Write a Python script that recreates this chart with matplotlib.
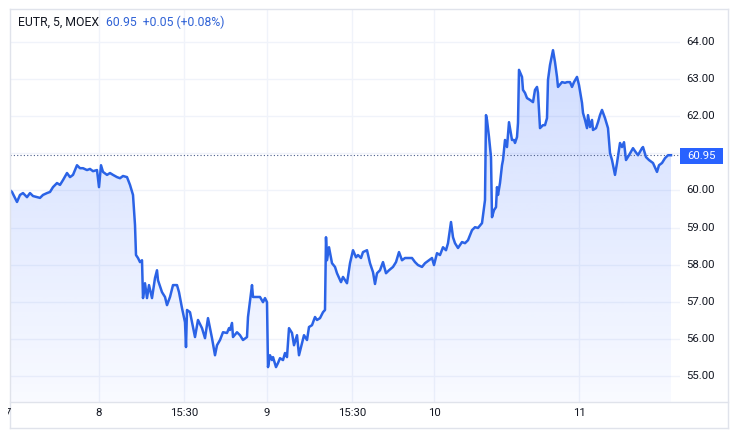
import numpy as np
import matplotlib
matplotlib.use("Agg")
import matplotlib.pyplot as plt
from matplotlib.patches import Rectangle
from matplotlib.transforms import Bbox

# ---------------- data ----------------
bars = [0, 2, 7, 10, 13, 17, 20, 23, 27, 30, 33, 37, 40, 43, 47, 50, 53, 57, 60, 63,
        67, 70, 73, 77, 80, 83, 87, 89, 91, 93, 97, 100, 103, 107, 110, 113, 117, 120, 123, 125,
        126, 128, 130, 132, 133, 135, 137, 139, 142, 145, 147, 148, 152, 155, 157, 160, 163, 167, 169, 172,
        175, 176, 177, 180, 182, 185, 188, 192, 195, 198, 200, 202, 205, 207, 210, 213, 217, 219, 220, 222,
        223, 227, 230, 233, 237, 238, 242, 243, 247, 250, 253, 255, 257, 258, 260, 262, 263, 266, 268, 270,
        273, 275, 277, 279, 282, 284, 287, 289, 292, 294, 297, 299, 302, 305, 307, 310, 313, 315, 316, 317,
        319, 322, 325, 327, 331, 333, 337, 340, 343, 346, 348, 351, 353, 357, 360, 363, 365, 367, 370, 373,
        376, 379, 383, 386, 389, 392, 395, 398, 402, 405, 408, 412, 415, 418, 422, 424, 427, 430, 433, 436,
        438, 441, 443, 445, 448, 452, 455, 458, 462, 465, 468, 472, 475, 476, 477, 479, 481, 482, 484, 486,
        487, 488, 490, 492, 493, 495, 497, 499, 502, 504, 505, 507, 508, 509, 512, 513, 515, 517, 520, 523,
        525, 527, 528, 530, 533, 535, 537, 538, 540, 543, 545, 547, 548, 552, 555, 557, 560, 562, 564, 567,
        569, 572, 573, 575, 577, 578, 580, 582, 583, 586, 588, 590, 592, 595, 598, 600, 602, 605, 607, 610,
        612, 614, 616, 619, 623, 625, 628, 632, 633, 636, 639, 643, 647, 649, 652, 655, 658, 661]
prices = [60.01, 59.96, 59.69, 59.88, 59.93, 59.82, 59.93, 59.85, 59.82, 59.80, 59.88, 59.93, 59.96, 60.09, 60.20, 60.15, 60.28, 60.47, 60.36, 60.42,
          60.68, 60.60, 60.60, 60.55, 60.58, 60.52, 60.55, 60.09, 60.68, 60.50, 60.42, 60.47, 60.42, 60.36, 60.33, 60.39, 60.36, 60.15, 59.88, 59.07,
          58.26, 58.18, 58.07, 58.12, 57.10, 57.50, 57.10, 57.45, 57.10, 57.64, 57.85, 57.58, 57.26, 57.13, 56.91, 57.13, 57.45, 57.45, 57.26, 56.83,
          56.45, 55.78, 56.78, 56.72, 56.45, 56.05, 56.51, 56.29, 56.02, 56.56, 56.29, 56.02, 55.56, 55.83, 55.97, 56.18, 56.16, 56.29, 56.24, 56.43,
          56.05, 56.18, 56.10, 55.97, 56.05, 56.59, 57.45, 57.13, 57.13, 57.13, 56.99, 57.10, 56.99, 55.24, 55.56, 55.43, 55.51, 55.24, 55.35, 55.48,
          55.43, 55.62, 55.51, 56.29, 56.16, 55.83, 56.10, 55.56, 55.89, 56.10, 55.97, 56.32, 56.37, 56.59, 56.51, 56.56, 56.72, 56.78, 58.74, 58.12,
          58.47, 58.04, 57.94, 57.77, 57.53, 57.67, 57.50, 58.04, 58.39, 58.20, 58.26, 58.18, 58.34, 58.39, 58.04, 57.80, 57.48, 57.77, 57.85, 58.07,
          57.77, 57.85, 57.94, 58.07, 58.34, 58.12, 58.18, 58.18, 58.18, 58.07, 57.99, 57.94, 58.04, 58.10, 58.18, 57.99, 58.31, 58.26, 58.47, 58.39,
          58.58, 59.15, 58.74, 58.58, 58.45, 58.61, 58.58, 58.66, 58.93, 59.01, 58.99, 59.12, 59.74, 62.03, 61.90, 61.44, 60.90, 59.28, 59.47, 59.55,
          60.09, 59.88, 60.20, 60.68, 60.82, 61.36, 61.17, 61.84, 61.36, 61.36, 61.28, 61.44, 61.82, 63.25, 63.06, 62.71, 62.63, 62.49, 62.44, 62.38,
          62.71, 62.79, 62.63, 61.68, 61.76, 61.76, 61.95, 62.98, 63.38, 63.78, 63.46, 63.06, 62.79, 62.92, 62.90, 62.92, 62.92, 62.79, 62.92, 63.06,
          62.84, 62.36, 62.09, 61.90, 61.68, 62.03, 61.71, 61.90, 61.63, 61.68, 61.84, 62.03, 62.17, 61.95, 61.68, 61.01, 60.82, 60.42, 60.74, 61.28,
          61.17, 61.30, 60.82, 60.95, 61.14, 61.06, 60.95, 61.14, 61.17, 60.90, 60.82, 60.74, 60.50, 60.68, 60.74, 60.87, 60.95, 60.95]

x_tick_bars = [89, 174, 257, 342, 424, 569]
x_tick_labels = ["8", "15:30", "9", "15:30", "10", "11"]
y_ticks = [55, 56, 57, 58, 59, 60, 61, 62, 63, 64]
y_tick_labels = ["55.00", "56.00", "57.00", "58.00", "59.00", "60.00", "", "62.00", "63.00", "64.00"]
last_price = 60.95
title_main = "EUTR, 5, MOEX"
title_quote = "60.95  +0.05 (+0.08%)"

# ---------------- style ----------------
FONT = "Roboto"
LINE_C = "#2b63e6"
TEXT_C = "#131722"
GRID_C = "#f0f3fa"
BORDER_C = "#e0e3eb"
FS = 8.2

W, H = 738, 433
fig = plt.figure(figsize=(W / 100, H / 100), dpi=100)
fig.patch.set_facecolor("white")

def fx(x):
    return x / W

def fy(y):
    return 1 - y / H

ax = fig.add_axes([fx(10), fy(402), (680 - 10) / W, (402 - 9) / H])
ymin, ymax = 54.30, 64.89
ax.set_xlim(0, 670)
ax.set_ylim(ymin, ymax)
for s in ax.spines.values():
    s.set_visible(False)
ax.tick_params(left=False, bottom=False, labelleft=False, labelbottom=False)

# grid
for v in y_ticks:
    ax.axhline(v, color=GRID_C, lw=1.0, zorder=0)
for b in x_tick_bars:
    ax.axvline(b, color=GRID_C, lw=1.0, zorder=0)

xs = np.array(bars, dtype=float)
ys = np.array(prices, dtype=float)

# gradient fill under the line
poly = ax.fill_between(xs, ys, ymin, color="none", lw=0)
top = ys.max()
n = 256
alpha = np.linspace(0.22, 0.03, n)[:, None]
rgba = np.zeros((n, 1, 4))
rgba[..., 0] = 41 / 255
rgba[..., 1] = 98 / 255
rgba[..., 2] = 255 / 255
rgba[..., 3] = alpha
im = ax.imshow(rgba, extent=[xs.min(), xs.max(), ymin, top], aspect="auto",
               origin="upper", zorder=1, interpolation="bilinear")
im.set_clip_path(poly.get_paths()[0], transform=ax.transData)

ax.plot(xs, ys, color=LINE_C, lw=1.8, zorder=3, solid_joinstyle="round")

# last price dotted line
ax.axhline(last_price, color="#4a5d8a", lw=0.8, ls=(0, (1, 2)), zorder=2)

# ---------------- price axis ----------------
ytrans = matplotlib.transforms.blended_transform_factory(fig.transFigure, ax.transData)
for v, lab in zip(y_ticks, y_tick_labels):
    if not lab:
        continue
    fig.text(fx(686), v, lab, transform=ytrans, ha="left", va="center",
             fontsize=FS, family=FONT, color=TEXT_C)

# price label box
fig.patches.append(Rectangle((fx(680), fy(164)), 43 / W, 16 / H,
                             transform=fig.transFigure, facecolor="#2962ff",
                             edgecolor="none", zorder=5))
fig.text(fx(701.5), fy(156), "60.95", ha="center", va="center", fontsize=FS,
         family=FONT, color="white", zorder=6)

# ---------------- time axis ----------------
xtrans = matplotlib.transforms.blended_transform_factory(ax.transData, fig.transFigure)
for b, lab in zip(x_tick_bars, x_tick_labels):
    fig.text(b, fy(413), lab, transform=xtrans, ha="center", va="center",
             fontsize=FS, family=FONT, color=TEXT_C)

t7 = fig.text(fx(7.5), fy(413), "7", ha="center", va="center", fontsize=FS,
              family=FONT, color=TEXT_C)
t7.set_clip_box(Bbox.from_extents(7.5, 0, W, H))
t7.set_clip_on(True)

# ---------------- borders ----------------
def hline(y, x0, x1):
    fig.add_artist(plt.Line2D([fx(x0), fx(x1)], [fy(y), fy(y)], color=BORDER_C, lw=1.0,
                              transform=fig.transFigure))

def vline(x, y0, y1):
    fig.add_artist(plt.Line2D([fx(x), fx(x)], [fy(y0), fy(y1)], color=BORDER_C, lw=1.0,
                              transform=fig.transFigure))

hline(9, 10, 728)
hline(402, 10, 728)
hline(428, 10, 728)
vline(10, 9, 428)
vline(728, 9, 428)

# ---------------- header ----------------
fig.text(fx(18), fy(22), title_main, ha="left", va="center", fontsize=8.8,
         family=FONT, color=TEXT_C)
fig.text(fx(106), fy(22), title_quote, ha="left", va="center", fontsize=8.8,
         family=FONT, color="#2f62d6")

fig.savefig("out.png", dpi=100)
